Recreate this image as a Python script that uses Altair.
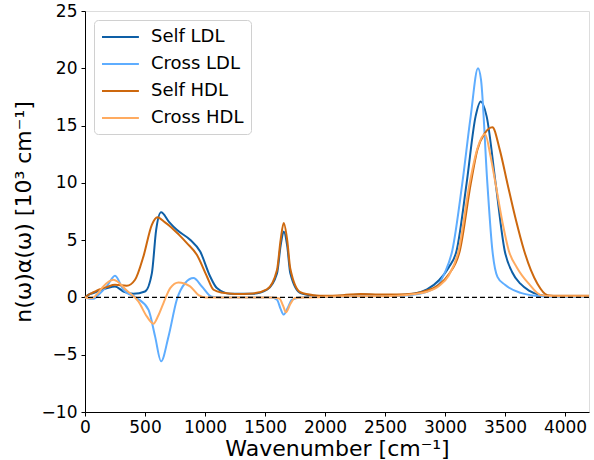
import altair as alt
import pandas as pd

series_names = ["Self LDL", "Cross LDL", "Self HDL", "Cross HDL"]
series_colors = ["#0e5fa6", "#5eadff", "#cd680e", "#ffab60"]

self_ldl_x = [0, 40, 70, 120, 180, 250, 320, 403, 500, 557, 593, 634, 700, 765, 876, 960, 1043, 1099, 1210, 1405, 1516, 1600, 1630, 1656, 1685, 1711, 1795, 1906, 2000, 2150, 2300, 2450, 2600, 2750, 2850, 2950, 3030, 3097, 3180, 3255, 3297, 3347, 3422, 3497, 3560, 3628, 3700, 3798, 3900, 4050, 4200]
self_ldl_y = [0, 0.3, 0.38, 0.6, 0.8, 0.96, 0.52, 0.32, 0.52, 2.1, 5.9, 7.44, 6.6, 5.9, 5.03, 4.0, 1.83, 0.82, 0.32, 0.32, 0.67, 2.1, 4.5, 5.76, 4.5, 2.1, 0.38, 0.15, 0.1, 0.15, 0.25, 0.2, 0.2, 0.35, 0.7, 1.5, 2.6, 4.1, 9.95, 15.8, 17.1, 15.8, 9.95, 4.1, 2.2, 1.2, 0.6, 0.2, 0.1, 0.1, 0.1]

cross_ldl_x = [0, 40, 70, 130, 181, 250, 320, 431, 529, 584, 634, 696, 765, 835, 904, 974, 1057, 1150, 1300, 1450, 1550, 1600, 1630, 1656, 1690, 1725, 1800, 1950, 2100, 2300, 2500, 2700, 2850, 2950, 3000, 3061, 3144, 3214, 3275, 3300, 3353, 3395, 3437, 3500, 3631, 3750, 3900, 4200]
cross_ldl_y = [0, -0.12, -0.12, 0.4, 0.96, 1.89, 0.67, -0.05, -1.07, -3.4, -5.58, -3.4, -0.2, 1.26, 1.69, 0.96, 0.06, 0.0, 0.0, 0.0, 0.0, -0.2, -1.0, -1.5, -0.9, -0.2, 0.0, 0.05, 0.05, 0.1, 0.1, 0.2, 0.5, 1.2, 2.2, 4.1, 9.95, 15.8, 20.0, 19.0, 9.95, 4.1, 1.8, 1.1, 0.4, 0.15, 0.05, 0.05]

self_hdl_x = [0, 40, 70, 120, 180, 250, 348, 417, 487, 557, 604, 660, 710, 780, 849, 932, 1016, 1071, 1150, 1250, 1400, 1516, 1600, 1630, 1656, 1685, 1711, 1795, 1906, 2000, 2150, 2300, 2450, 2600, 2750, 2850, 2950, 3030, 3124, 3215, 3270, 3330, 3395, 3456, 3520, 3590, 3659, 3715, 3770, 3854, 3950, 4100, 4200]
self_hdl_y = [0, 0.3, 0.45, 0.7, 0.9, 1.1, 1.02, 1.54, 3.58, 6.34, 7.0, 6.6, 6.2, 5.5, 4.74, 3.72, 1.83, 0.67, 0.4, 0.3, 0.35, 0.7, 2.4, 5.0, 6.49, 5.0, 2.5, 0.45, 0.2, 0.15, 0.2, 0.3, 0.25, 0.25, 0.35, 0.6, 1.1, 2.0, 4.1, 9.95, 12.9, 14.3, 14.85, 12.9, 9.95, 6.8, 4.1, 2.4, 1.2, 0.2, 0.15, 0.15, 0.15]

cross_hdl_x = [0, 40, 70, 110, 153, 236, 348, 445, 515, 570, 610, 654, 710, 779, 876, 946, 1000, 1150, 1300, 1450, 1550, 1620, 1650, 1675, 1710, 1750, 1850, 2000, 2200, 2400, 2600, 2750, 2850, 2950, 3030, 3114, 3205, 3270, 3333, 3380, 3421, 3480, 3531, 3600, 3698, 3798, 3900, 4200]
cross_hdl_y = [0, -0.05, 0.0, 0.4, 0.96, 1.54, 0.6, -0.35, -1.66, -2.29, -1.6, -0.49, 0.82, 1.31, 0.96, 0.2, 0.0, 0.0, 0.0, 0.0, 0.0, -0.1, -0.7, -1.3, -0.6, -0.05, 0.0, 0.05, 0.1, 0.1, 0.15, 0.3, 0.5, 1.0, 1.9, 4.1, 9.95, 13.0, 14.26, 12.3, 9.95, 6.5, 4.1, 2.6, 1.2, 0.2, 0.1, 0.1]

x_ticks = [0, 500, 1000, 1500, 2000, 2500, 3000, 3500, 4000]
y_ticks = [-10, -5, 0, 5, 10, 15, 20, 25]

rows = []
for name, xs, ys, order in [
    ("Self LDL", self_ldl_x, self_ldl_y, 0),
    ("Cross LDL", cross_ldl_x, cross_ldl_y, 1),
    ("Self HDL", self_hdl_x, self_hdl_y, 2),
    ("Cross HDL", cross_hdl_x, cross_hdl_y, 3),
]:
    for xv, yv in zip(xs, ys):
        rows.append({"series": name, "x": xv, "y": yv, "order": order})
df = pd.DataFrame(rows)

FONT = "DejaVu Sans"
common_axis = dict(grid=False, labelFontSize=17, titleFontWeight="normal",
                   tickSize=4, domainColor="#000", tickColor="#000",
                   labelColor="#000", titleColor="#000",
                   labelFont=FONT, titleFont=FONT, labelFlush=False,
                   domainWidth=1, tickWidth=1)

xscale = alt.Scale(domain=[0, 4200], nice=False, zero=False)
yscale = alt.Scale(domain=[-10, 25], nice=False, zero=False)

lines = alt.Chart(df).mark_line(strokeWidth=2, interpolate="monotone").encode(
    x=alt.X("x:Q", scale=xscale,
            axis=alt.Axis(values=x_ticks, format="d", title="Wavenumber [cm⁻¹]",
                          titleFontSize=22, titlePadding=3, labelPadding=3,
                          **common_axis)),
    y=alt.Y("y:Q", scale=yscale,
            axis=alt.Axis(values=y_ticks, format="d", title="n(ω)α(ω) [10³ cm⁻¹]",
                          titleFontSize=22, titlePadding=6, labelPadding=4,
                          **common_axis)),
    color=alt.Color("series:N",
                    scale=alt.Scale(domain=series_names, range=series_colors),
                    sort=series_names,
                    legend=alt.Legend(title=None, orient="top-left", offset=9,
                                      symbolType="M-1,0L3.1,0", symbolStrokeWidth=2,
                                      symbolSize=324, labelFontSize=18, labelFont=FONT,
                                      labelColor="#000", labelOffset=30,
                                      rowPadding=8, padding=7,
                                      fillColor="white", strokeColor="#d0d0d0",
                                      cornerRadius=4)),
    order=alt.Order("order:Q"),
    detail="series:N",
)

zero = alt.Chart(pd.DataFrame({"y": [0]})).mark_rule(
    color="black", strokeDash=[5, 3], strokeWidth=1.2
).encode(y=alt.Y("y:Q", scale=yscale))

chart = alt.layer(lines, zero).properties(
    width=504, height=401,
    autosize=alt.AutoSizeParams(type="none"),
    padding={"left": 85, "top": 11, "right": 5, "bottom": 48},
).configure_view(stroke="black", strokeWidth=1.2).configure(background="white")

chart.save("out.html", embed_options={"renderer": "svg", "actions": False})
